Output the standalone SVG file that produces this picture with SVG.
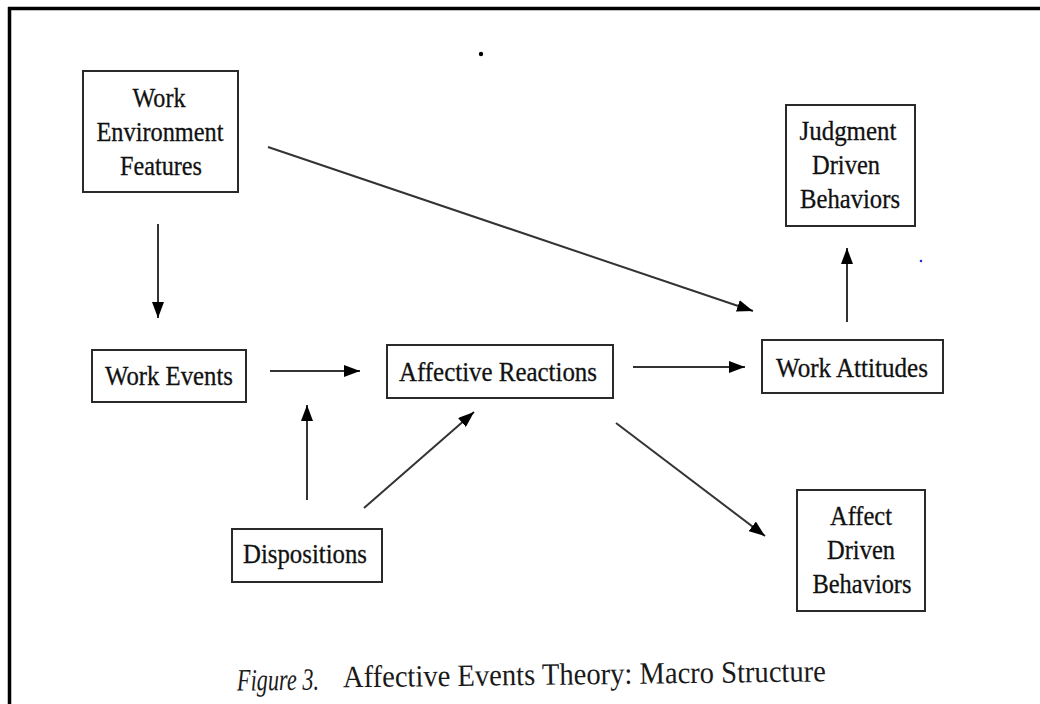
<svg xmlns="http://www.w3.org/2000/svg" width="1040" height="704" viewBox="0 0 1040 704">
<style>
.box{fill:#fff;stroke:#2a2a2a;stroke-width:2}
.t{font-family:"Liberation Serif","Times New Roman",serif;font-size:28px;fill:#111;stroke:#111;stroke-width:0.3;text-anchor:middle}
.cap{font-family:"Liberation Serif","Times New Roman",serif;font-size:31px;fill:#1a1a1a}
.c{stroke:#333;stroke-width:2;fill:none;marker-end:url(#ah)}
</style>
<defs>
<marker id="ah" markerWidth="16" markerHeight="12" refX="16" refY="6" orient="auto" markerUnits="userSpaceOnUse">
<path d="M0,0 L16,6 L0,12 Z" fill="#000"/>
</marker>
</defs>
<rect x="0" y="0" width="1040" height="704" fill="#fff"/>
<g id="frame">
<line x1="8" y1="8.5" x2="1040" y2="8.5" stroke="#000" stroke-width="3.5"/>
<line x1="9.5" y1="7" x2="9.5" y2="704" stroke="#000" stroke-width="3.5"/>
</g>
<circle cx="481" cy="54" r="2.2" fill="#000"/>
<circle cx="921" cy="261" r="1.3" fill="#2233dd"/>
<g id="connectors">
<line class="c" x1="158" y1="224" x2="158" y2="318"/>
<line class="c" x1="270" y1="371" x2="360" y2="371"/>
<line class="c" x1="633" y1="367" x2="745" y2="367"/>
<line class="c" x1="268" y1="147" x2="753" y2="311"/>
<line class="c" x1="847" y1="322" x2="847" y2="248"/>
<line class="c" x1="307" y1="500" x2="307" y2="405"/>
<line class="c" x1="364" y1="508" x2="474" y2="412"/>
<line class="c" x1="616" y1="423" x2="765" y2="536"/>
</g>
<g id="work-environment-features">
<rect class="box" x="83" y="71" width="155" height="121"/>
<text class="t" x="159" y="107" textLength="53" lengthAdjust="spacingAndGlyphs">Work</text>
<text class="t" x="160" y="141" textLength="127" lengthAdjust="spacingAndGlyphs">Environment</text>
<text class="t" x="161" y="175" textLength="82" lengthAdjust="spacingAndGlyphs">Features</text>
</g>
<g id="work-events">
<rect class="box" x="92" y="350" width="154" height="52"/>
<text class="t" x="169" y="385" textLength="128" lengthAdjust="spacingAndGlyphs">Work Events</text>
</g>
<g id="affective-reactions">
<rect class="box" x="387" y="345" width="226" height="53"/>
<text class="t" x="498" y="381" textLength="198" lengthAdjust="spacingAndGlyphs">Affective Reactions</text>
</g>
<g id="work-attitudes">
<rect class="box" x="762" y="340" width="181" height="53"/>
<text class="t" x="852" y="377" textLength="152" lengthAdjust="spacingAndGlyphs">Work Attitudes</text>
</g>
<g id="judgment-driven-behaviors">
<rect class="box" x="786" y="105" width="129" height="121"/>
<text class="t" x="848" y="140" textLength="97" lengthAdjust="spacingAndGlyphs">Judgment</text>
<text class="t" x="846" y="174" textLength="68" lengthAdjust="spacingAndGlyphs">Driven</text>
<text class="t" x="850" y="208" textLength="100" lengthAdjust="spacingAndGlyphs">Behaviors</text>
</g>
<g id="dispositions">
<rect class="box" x="232" y="529" width="150" height="53"/>
<text class="t" x="305" y="563" textLength="124" lengthAdjust="spacingAndGlyphs">Dispositions</text>
</g>
<g id="affect-driven-behaviors">
<rect class="box" x="797" y="490" width="128" height="121"/>
<text class="t" x="861" y="525" textLength="62" lengthAdjust="spacingAndGlyphs">Affect</text>
<text class="t" x="861" y="559" textLength="68" lengthAdjust="spacingAndGlyphs">Driven</text>
<text class="t" x="862" y="593" textLength="99" lengthAdjust="spacingAndGlyphs">Behaviors</text>
</g>
<g id="caption" transform="rotate(-0.7 530 682)">
<text class="cap" x="237" y="687" font-style="italic" textLength="82" lengthAdjust="spacingAndGlyphs">Figure 3.</text>
<text class="cap" x="343" y="685" textLength="483" lengthAdjust="spacingAndGlyphs">Affective Events Theory: Macro Structure</text>
</g>
</svg>
